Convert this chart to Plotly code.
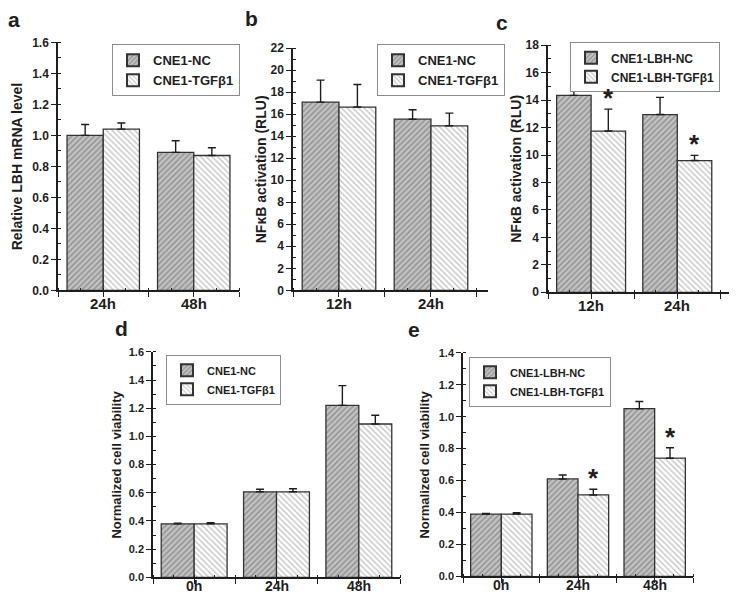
import plotly.graph_objects as go

# the page body has an 8px margin, so the figure is 16px smaller than the window
PAGE_W, PAGE_H = 739, 607
OFF = 8
W, H = PAGE_W - 2 * OFF, PAGE_H - 2 * OFF

# ---------------- data ----------------
a_times = ["24h", "48h"]
a_nc = [1.00, 0.89]
a_nc_err = [0.07, 0.075]
a_tgf = [1.04, 0.87]
a_tgf_err = [0.04, 0.05]

b_times = ["12h", "24h"]
b_nc = [17.1, 15.55]
b_nc_err = [2.0, 0.85]
b_tgf = [16.65, 14.95]
b_tgf_err = [2.05, 1.15]

c_times = ["12h", "24h"]
c_nc = [14.35, 12.95]
c_nc_err = [0.65, 1.25]
c_tgf = [11.75, 9.6]
c_tgf_err = [1.6, 0.38]
c_sig = [True, True]

d_times = ["0h", "24h", "48h"]
d_nc = [0.38, 0.607, 1.22]
d_nc_err = [0.005, 0.018, 0.14]
d_tgf = [0.38, 0.607, 1.088]
d_tgf_err = [0.008, 0.022, 0.062]

e_times = ["0h", "24h", "48h"]
e_nc = [0.39, 0.61, 1.05]
e_nc_err = [0.004, 0.025, 0.045]
e_tgf = [0.39, 0.51, 0.74]
e_tgf_err = [0.008, 0.036, 0.065]
e_sig = [False, True, True]

FONT = "Liberation Sans, Arial, sans-serif"
INK = "#1e1e1e"


def px(x):
    return (x - OFF) / W


def py(y):
    return 1 - (y - OFF) / H


panels = [
    dict(k="", letter="a", times=a_times, nc=a_nc, ncerr=a_nc_err, tgf=a_tgf, tgferr=a_tgf_err,
         sig=None, names=("CNE1-NC", "CNE1-TGFβ1"), xd=(58, 239), yd=(290, 36), yr=(0, 1.6),
         dt=0.2, mn=0.1, fmt=".1f", xmax=1.5, title="Relative LBH mRNA level", tx=17,
         leg=(112, 38), lf=13, lp=(14, 13), tf=12, xf=15, xs=-13, ttf=14),
    dict(k="2", letter="b", times=b_times, nc=b_nc, ncerr=b_nc_err, tgf=b_tgf, tgferr=b_tgf_err,
         sig=None, names=("CNE1-NC", "CNE1-TGFβ1"), xd=(293, 488), yd=(290, 42), yr=(0, 22),
         dt=2, mn=1, fmt="d", xmax=1.62, title="NFκB activation (RLU)", tx=261,
         leg=(377, 38), lf=13, lp=(251, 12), tf=12, xf=15, xs=-13, ttf=14),
    dict(k="3", letter="c", times=c_times, nc=c_nc, ncerr=c_nc_err, tgf=c_tgf, tgferr=c_tgf_err,
         sig=c_sig, names=("CNE1-LBH-NC", "CNE1-LBH-TGFβ1"), xd=(548, 729), yd=(292, 39), yr=(0, 18),
         dt=2, mn=1, fmt="d", xmax=1.6, title="NFκB activation (RLU)", tx=516,
         leg=(570, 36), lf=12, lp=(502, 16), tf=12, xf=15, xs=-13, ttf=14),
    dict(k="4", letter="d", times=d_times, nc=d_nc, ncerr=d_nc_err, tgf=d_tgf, tgferr=d_tgf_err,
         sig=None, names=("CNE1-NC", "CNE1-TGFβ1"), xd=(153, 400), yd=(584, 353), yr=(0, 1.6),
         dt=0.2, mn=0.1, fmt=".1f", xmax=2.5, title="Normalized cell viability", tx=117,
         leg=(166, 356), lf=11, lp=(121, 329), tf=11, xf=14, xs=-9, ttf=13),
    dict(k="5", letter="e", times=e_times, nc=e_nc, ncerr=e_nc_err, tgf=e_tgf, tgferr=e_tgf_err,
         sig=e_sig, names=("CNE1-LBH-NC", "CNE1-LBH-TGFβ1"), xd=(463, 693), yd=(583, 354), yr=(0, 1.4),
         dt=0.2, mn=0.1, fmt=".1f", xmax=2.5, title="Normalized cell viability", tx=425,
         leg=(469, 358), lf=11, lp=(414, 330), tf=11, xf=14, xs=-9, ttf=13),
]

fig = go.Figure()
annotations = []
layout = {}

for i, p in enumerate(panels):
    k = p["k"]
    xa, ya = "x" + k, "y" + k
    legname = "legend" + ("" if i == 0 else str(i + 1))
    xs = list(range(len(p["times"])))
    fig.add_trace(go.Bar(
        x=xs, y=p["nc"], name=p["names"][0], xaxis=xa, yaxis=ya, legend=legname,
        offsetgroup="nc",
        marker=dict(color="#bdbdbd", line=dict(color="#333333", width=1.3),
                    pattern=dict(shape="/", fgcolor="#595959", bgcolor="#c2c2c2", size=4, solidity=0.35)),
        error_y=dict(type="data", array=p["ncerr"], arrayminus=[0] * len(xs), symmetric=False,
                     color=INK, thickness=1.4, width=4),
    ))
    fig.add_trace(go.Bar(
        x=xs, y=p["tgf"], name=p["names"][1], xaxis=xa, yaxis=ya, legend=legname,
        offsetgroup="tgf",
        marker=dict(color="white", line=dict(color="#333333", width=1.3),
                    pattern=dict(shape="\\", fgcolor="#8a8a8a", bgcolor="white", size=4, solidity=0.35)),
        error_y=dict(type="data", array=p["tgferr"], arrayminus=[0] * len(xs), symmetric=False,
                     color=INK, thickness=1.4, width=4),
    ))

    n = len(xs)
    tv = []
    v = -0.5
    while v <= n - 0.5 + 1e-9:
        tv.append(v)
        v += 0.5

    layout["xaxis" + k] = dict(
        domain=[px(p["xd"][0]), px(p["xd"][1])], anchor=ya, range=[-0.5, p["xmax"]],
        tickmode="array", tickvals=tv, ticktext=[""] * len(tv), ticks="outside", ticklen=5, tickwidth=1.2,
        tickcolor=INK, showline=True, linecolor=INK, linewidth=1.5, showgrid=False, zeroline=False,
        minor=dict(ticks="inside", dtick=0.25, tick0=-0.5, ticklen=3, tickwidth=1, tickcolor=INK, showgrid=False),
        fixedrange=True,
    )
    layout["yaxis" + k] = dict(
        domain=[py(p["yd"][0]), py(p["yd"][1])], anchor=xa, range=list(p["yr"]),
        tick0=0, dtick=p["dt"], tickformat=p["fmt"], ticks="outside", ticklen=5, tickwidth=1.2,
        tickcolor=INK, showline=True, linecolor=INK, linewidth=1.5, showgrid=False, zeroline=False,
        tickfont=dict(family=FONT, size=p["tf"], color=INK, weight="bold"),
        minor=dict(ticks="inside", dtick=p["mn"], ticklen=3, tickwidth=1, tickcolor=INK, showgrid=False),
        fixedrange=True,
    )
    layout[legname] = dict(
        x=px(p["leg"][0]), y=py(p["leg"][1]), xanchor="left", yanchor="top",
        bgcolor="white", bordercolor="#8c8c8c", borderwidth=1,
        font=dict(family=FONT, size=p["lf"], color=INK, weight="bold"),
        tracegroupgap=0, itemsizing="constant",
    )

    # category labels under the x axis
    for j, t in enumerate(p["times"]):
        annotations.append(dict(
            x=xs[j], y=0, xref=xa, yref=ya, text=t, showarrow=False,
            xanchor="center", yanchor="middle", yshift=p["xs"],
            font=dict(family=FONT, size=p["xf"], color=INK, weight="bold")))

    # axis title
    ymid = (p["yd"][0] + p["yd"][1]) / 2
    annotations.append(dict(
        x=px(p["tx"]), y=py(ymid), xref="paper", yref="paper", text=p["title"], textangle=-90,
        showarrow=False, font=dict(family=FONT, size=p["ttf"], color=INK, weight="bold"),
        xanchor="center", yanchor="middle"))
    # panel letter
    annotations.append(dict(
        x=px(p["lp"][0]), y=py(p["lp"][1]), xref="paper", yref="paper", text=p["letter"],
        showarrow=False, font=dict(family=FONT, size=21, color=INK, weight="bold"),
        xanchor="center", yanchor="middle"))
    # significance stars
    if p["sig"]:
        for j, s in enumerate(p["sig"]):
            if s:
                annotations.append(dict(
                    x=xs[j] + 0.2, y=p["tgf"][j] + p["tgferr"][j], xref=xa, yref=ya, text="*",
                    showarrow=False, yanchor="bottom", yshift=-6,
                    font=dict(family=FONT, size=26, color=INK, weight="bold")))

fig.update_layout(
    width=W, height=H, margin=dict(l=0, r=0, t=0, b=0),
    paper_bgcolor="white", plot_bgcolor="white",
    barmode="group", bargap=0.2, bargroupgap=0,
    showlegend=True, annotations=annotations, **layout,
)

fig.write_html("out.html")
